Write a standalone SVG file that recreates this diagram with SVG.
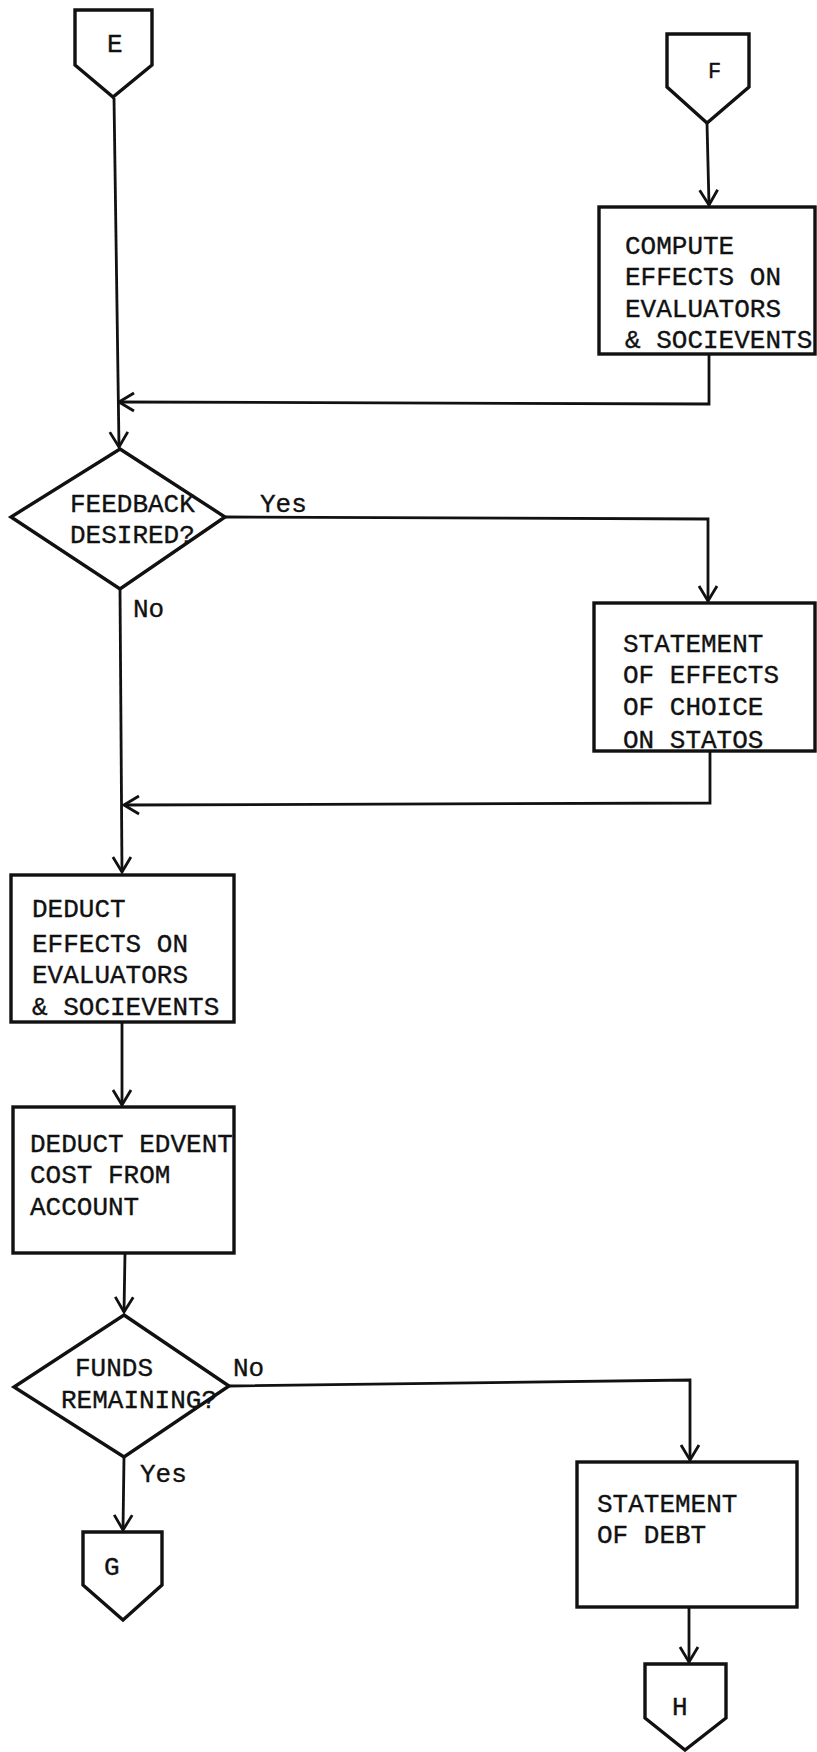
<svg xmlns="http://www.w3.org/2000/svg" width="817" height="1752" viewBox="0 0 817 1752">
<style>
.shape{fill:#fff;stroke:#111;stroke-width:3.4;stroke-linejoin:miter}
.conn{fill:none;stroke:#111;stroke-width:2.8}
.t{font-family:"Liberation Mono","Courier New",monospace;font-size:26px;fill:#111;stroke:#111;stroke-width:0.35}
.s{font-size:22px}
</style>
<defs>
<marker id="arr" markerUnits="userSpaceOnUse" viewBox="-16 -11 18 22" refX="0" refY="0" markerWidth="18" markerHeight="22" orient="auto">
<path d="M-15,-9 L0,0 L-15,9" fill="none" stroke="#111" stroke-width="2.8"/>
</marker>
</defs>
<rect width="817" height="1752" fill="#fff"/>
<g id="connectors">
<path class="conn" d="M114,98 L119,447" marker-end="url(#arr)"/>
<path class="conn" d="M707,123 L709,205" marker-end="url(#arr)"/>
<path class="conn" d="M709,355 L709,404 L119,402" marker-end="url(#arr)"/>
<path class="conn" d="M225,517 L708,519 L708,601" marker-end="url(#arr)"/>
<path class="conn" d="M120,589 L122,872" marker-end="url(#arr)"/>
<path class="conn" d="M710,751 L710,803 L124,805" marker-end="url(#arr)"/>
<path class="conn" d="M122,1022 L122,1105" marker-end="url(#arr)"/>
<path class="conn" d="M125,1253 L124,1312" marker-end="url(#arr)"/>
<path class="conn" d="M229,1386 L690,1380 L690,1460" marker-end="url(#arr)"/>
<path class="conn" d="M124,1457 L123,1530" marker-end="url(#arr)"/>
<path class="conn" d="M689,1607 L689,1662" marker-end="url(#arr)"/>
<text class="t" x="260" y="512">Yes</text>
<text class="t" x="133" y="617">No</text>
<text class="t" x="233" y="1376">No</text>
<text class="t" x="140" y="1482">Yes</text>
</g>
<g id="E">
<path class="shape" d="M75,10 L152,10 L152,65 L113,97 L75,65 Z"/>
<text class="t" x="107" y="52">E</text>
</g>
<g id="F">
<path class="shape" d="M667,34 L749,34 L749,87 L707,123 L667,87 Z"/>
<text class="t s" x="708" y="78">F</text>
</g>
<g id="compute">
<rect class="shape" x="599" y="207" width="216" height="147"/>
<text class="t" x="625" y="254">COMPUTE</text>
<text class="t" x="625" y="285">EFFECTS ON</text>
<text class="t" x="625" y="317">EVALUATORS</text>
<text class="t" x="625" y="348">&amp; SOCIEVENTS</text>
</g>
<g id="feedback">
<path class="shape" d="M120,449 L225,517 L120,589 L11,517 Z"/>
<text class="t" x="70" y="512">FEEDBACK</text>
<text class="t" x="70" y="543">DESIRED?</text>
</g>
<g id="statement-effects">
<rect class="shape" x="594" y="603" width="221" height="148"/>
<text class="t" x="623" y="652">STATEMENT</text>
<text class="t" x="623" y="683">OF EFFECTS</text>
<text class="t" x="623" y="715">OF CHOICE</text>
<text class="t" x="623" y="748">ON STATOS</text>
</g>
<g id="deduct-effects">
<rect class="shape" x="11" y="875" width="223" height="147"/>
<text class="t" x="32" y="917">DEDUCT</text>
<text class="t" x="32" y="952">EFFECTS ON</text>
<text class="t" x="32" y="983">EVALUATORS</text>
<text class="t" x="32" y="1015">&amp; SOCIEVENTS</text>
</g>
<g id="deduct-cost">
<rect class="shape" x="13" y="1107" width="221" height="146"/>
<text class="t" x="30" y="1152">DEDUCT EDVENT</text>
<text class="t" x="30" y="1183">COST FROM</text>
<text class="t" x="30" y="1215">ACCOUNT</text>
</g>
<g id="funds">
<path class="shape" d="M124,1315 L229,1386 L124,1457 L14,1387 Z"/>
<text class="t" x="75" y="1376">FUNDS</text>
<text class="t" x="61" y="1408">REMAINING?</text>
</g>
<g id="G">
<path class="shape" d="M83,1532 L162,1532 L162,1585 L123,1620 L83,1585 Z"/>
<text class="t" x="104" y="1575">G</text>
</g>
<g id="statement-debt">
<rect class="shape" x="577" y="1462" width="220" height="145"/>
<text class="t" x="597" y="1512">STATEMENT</text>
<text class="t" x="597" y="1543">OF DEBT</text>
</g>
<g id="H">
<path class="shape" d="M645,1664 L726,1664 L726,1718 L685,1750 L645,1718 Z"/>
<text class="t" x="672" y="1715">H</text>
</g>
</svg>
